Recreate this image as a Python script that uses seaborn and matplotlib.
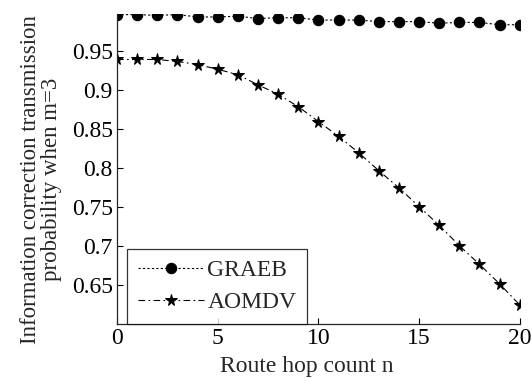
import numpy as np
import pandas as pd
import seaborn as sns
import matplotlib.pyplot as plt

# values
hops = list(range(21))
graeb = [0.996, 0.996, 0.995, 0.996, 0.993, 0.993, 0.994, 0.991, 0.992, 0.992,
         0.989, 0.989, 0.989, 0.987, 0.987, 0.987, 0.985, 0.986, 0.986, 0.983, 0.983]
aomdv = [0.9385, 0.9385, 0.9385, 0.936, 0.932, 0.926, 0.919, 0.906, 0.894, 0.878,
         0.859, 0.840, 0.819, 0.796, 0.774, 0.750, 0.726, 0.700, 0.676, 0.651, 0.624]

df = pd.DataFrame({'n': hops, 'GRAEB': graeb, 'AOMDV': aomdv})

sns.set_style('ticks')
plt.rcParams['font.family'] = ['Liberation Serif', 'DejaVu Serif']
plt.rcParams['xtick.direction'] = 'in'
plt.rcParams['ytick.direction'] = 'in'

fig = plt.figure(figsize=(5.32, 3.84), dpi=100)
ax = fig.add_axes([0.22, 0.157, 0.757, 0.807])

sns.lineplot(data=df, x='n', y='GRAEB', ax=ax, color='black', linestyle=(0, (2, 2)),
             linewidth=0.8, marker='o', markersize=7.5, markeredgecolor='black', label='GRAEB')
sns.lineplot(data=df, x='n', y='AOMDV', ax=ax, color='black', linestyle=(0, (6, 3, 1.5, 3)),
             linewidth=0.8, marker='*', markersize=8.5, markeredgecolor='black', label='AOMDV')

ax.set_xlim(0, 20)
ax.set_ylim(0.6, 0.997)
ax.set_xticks([0, 5, 10, 15, 20])
ax.set_yticks([0.65, 0.7, 0.75, 0.8, 0.85, 0.9, 0.95])
ax.set_yticklabels(['0.65', '0.7', '0.75', '0.8', '0.85', '0.9', '0.95'])
ax.tick_params(labelsize=17, length=4, width=0.8, colors='black', pad=3)
ax.set_xlabel('Route hop count n', fontsize=17)
ax.xaxis.set_label_coords(0.47, -0.105)
ax.set_ylabel('Information correction transmission\nprobability when m=3', fontsize=16.5,
              linespacing=1.0)
ax.yaxis.set_label_coords(-0.137, 0.465)
for s in ['left', 'bottom']:
    ax.spines[s].set_linewidth(0.9)
sns.despine(ax=ax)

leg = ax.legend(loc='lower left', fontsize=17, frameon=True, fancybox=False,
                edgecolor='black', borderaxespad=0.0, bbox_to_anchor=(0.025, 0.0),
                handlelength=2.8, handletextpad=0.15, labelspacing=0.45, borderpad=0.45)
leg.get_frame().set_linewidth(0.9)

fig.savefig('out.png', dpi=100)
